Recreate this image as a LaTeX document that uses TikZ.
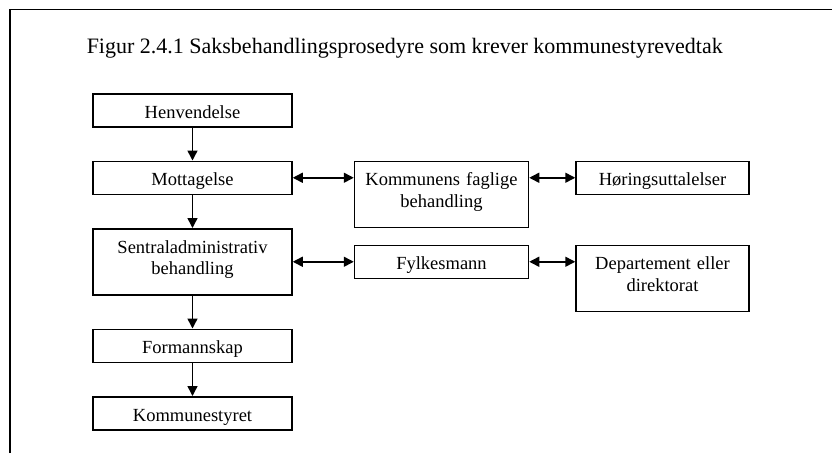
\documentclass[tikz,border=0pt]{standalone}
\usepackage{fontspec}
\setmainfont{Liberation Serif}
\usetikzlibrary{arrows.meta,positioning}

\begin{document}
\begin{tikzpicture}[x=1pt,y=-1pt,->,>={Triangle[length=10pt,width=10pt]},
                    line width=1.5pt,node distance=33pt]

  \tikzstyle{box}=[draw,rectangle,align=center,inner ysep=0pt,inner xsep=2pt,
                   font=\fontsize{18.5}{21.5}\selectfont,text height=24.5pt,text depth=8.5pt]
  \tikzstyle{tall}=[text depth=41.5pt]

  \useasboundingbox (0,0) rectangle (832,453);
  \draw[-] (10,453) |- (832,9.5);

  \node[anchor=base west,inner sep=0pt,font=\fontsize{22}{24}\selectfont]
       (title) at (86,53.5) {Figur 2.4.1 Saksbehandlingsprosedyre som krever kommunestyrevedtak};

  \node[box,text width=195pt,anchor=north] (henv) at (192.5,93) {Henvendelse};
  \node[box,text width=195pt]      (mott) [below=of henv] {Mottagelse};
  \node[box,tall,text width=195pt] (sent) [below=of mott] {Sentraladministrativ\\behandling};
  \node[box,text width=195pt]      (form) [below=of sent] {Formannskap};
  \node[box,text width=195pt]      (kstr) [below=of form] {Kommunestyret};

  \node[box,tall,text width=170pt] (komm) [right=61pt of mott.north east,anchor=north west]
       {Kommunens faglige\\behandling};
  \node[box,text width=170pt]      (fylk) [right=61pt of sent] {Fylkesmann};

  \node[box,text width=169pt]      (hori) [right=46pt of komm.north east,anchor=north west]
       {Høringsuttalelser};
  \node[box,tall,text width=169pt] (dept) [right=46pt of fylk.north east,anchor=north west]
       {Departement eller\\direktorat};

  \path
  (henv) edge (mott)
  (mott) edge (sent)
  (sent) edge (form)
  (form) edge (kstr)
  (mott.east) edge [<->] (mott.east -| komm.west)
  (komm.east |- hori.west) edge [<->] (hori.west)
  (sent.east) edge [<->] (sent.east -| fylk.west)
  (fylk.east) edge [<->] (fylk.east -| dept.west)
  ;
\end{tikzpicture}
\end{document}
